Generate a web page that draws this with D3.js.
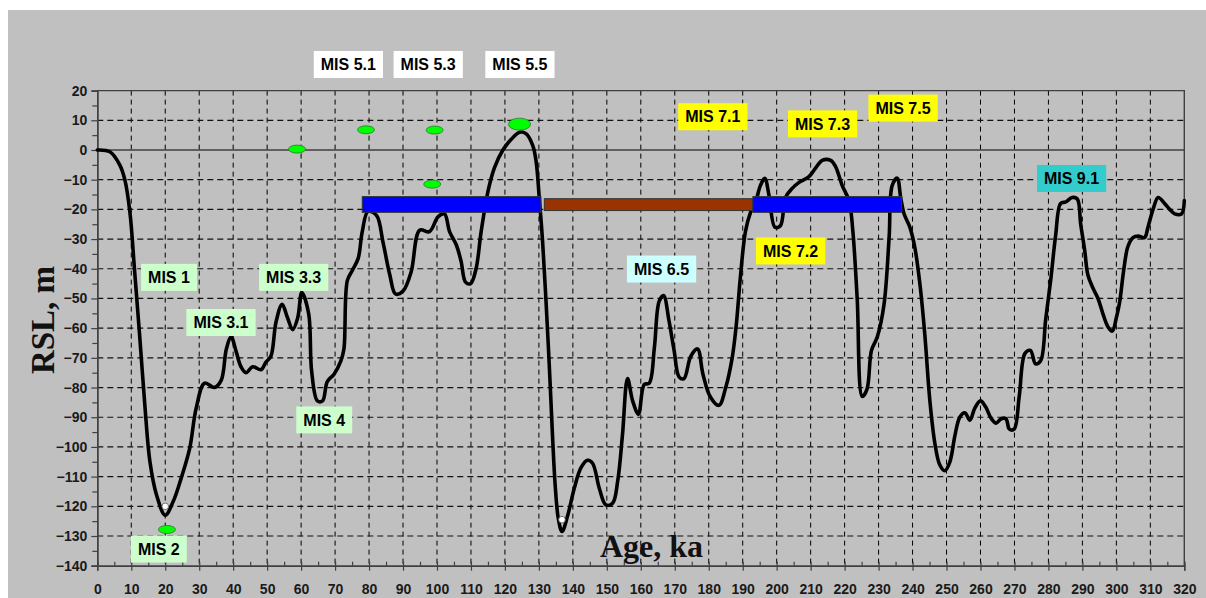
<!DOCTYPE html>
<html><head><meta charset="utf-8">
<script src="https://cdn.jsdelivr.net/npm/d3@7"></script>
<style>
html,body{margin:0;padding:0;background:#fff;}
svg{display:block;}
</style></head>
<body>
<svg id="c" width="1206" height="598"></svg>
<script>
// ---- data ----
const age = [0,3.7,6.6,8.1,9.6,11,12.5,14,15.5,17.4,20,22.3,24.7,27.2,29.1,31.6,34.5,36.5,38,39.4,40.9,42.3,43.8,45.7,48.2,49.6,51.1,52.6,54.4,56,57.5,59,60.2,62.2,63.1,64.8,66.3,67.7,69.7,71.7,72.6,73.6,75.1,76.8,78,79.7,82.2,84.1,86.1,87.8,90,92.4,94.9,97.8,100.3,102.2,103.7,105.7,107.1,108.4,109.9,111.5,113,115,116.9,119.4,121.8,124.3,126.2,128.2,129.2,130.1,131.1,132.1,133.1,134,134.8,135.7,136.8,138.5,140.4,142.4,144.3,145.8,147.8,149.7,151.7,153.2,154.6,156.1,157.6,159.3,161,162.5,164,165.4,166.7,168.3,169.8,171.3,172.7,174.7,176.7,178.3,180.4,183,185,186.9,188.1,189.3,190.8,192.3,193.8,195.2,196.5,197.7,199.5,201.1,202.6,204.5,206.5,209.5,211.5,213.4,215.9,217.3,219.3,221.3,222.4,223.7,225.2,226.6,227.9,229.6,231.6,233.1,234,235.5,236.5,237.5,239.2,240.7,242.2,243.6,245.1,246.6,248,249.5,251,252.5,253.9,255.4,256.9,258.3,260,261.5,263.2,264.6,266.1,267.5,268.5,269.9,271.4,273.1,274.7,276.2,277.7,279.2,280.7,282.1,283.6,285.1,287,288.5,289.5,290.7,291.6,293.1,294.6,296,297.5,298.8,300,301,302.1,303.4,304.9,306.4,308.3,309.3,310.8,312.3,314.2,315.7,317.2,319.2,320];
const rsl = [0,-0.6,-5,-10,-21,-41,-63,-86,-105,-116,-123,-118.5,-110.5,-100.5,-87,-78.5,-80,-77.5,-67,-63,-68,-73,-75,-73,-74,-71.5,-69.5,-58,-52,-56.5,-60.5,-56.5,-48,-55,-74.5,-84.5,-84.5,-78,-75.5,-71,-67,-44,-40.5,-36.5,-27.5,-20.7,-22,-31,-42,-48.5,-47.5,-41,-27,-27.5,-22.5,-21.5,-27.5,-32,-37.5,-44.5,-45,-40,-27.5,-14,-6,0,3.5,6,5.5,1.5,-4,-16,-31,-51,-73.5,-96,-113,-124,-128.5,-123,-114,-107,-104.5,-105.5,-114,-119.5,-119,-111.5,-96,-77,-84.5,-89,-79,-78.5,-66.5,-51,-49,-57.5,-67.5,-76.5,-77,-69.5,-67,-75.5,-83,-86,-80,-70,-59,-43,-27.5,-21,-17.5,-12,-9.5,-15,-26,-25.5,-16,-13,-11,-9,-6,-3.5,-3.5,-5.5,-12,-17,-27,-50,-83,-80.5,-67.5,-63,-52,-29.5,-12,-9.5,-16,-21.5,-26,-33,-45.5,-62,-84.5,-99,-106,-108,-105,-96,-90,-88.5,-91,-87,-84.5,-86.5,-90.5,-92,-90.5,-90.5,-94,-94,-83,-68.5,-67.5,-72,-71,-57,-43.5,-29,-18,-17.5,-16,-16.5,-25,-34,-42,-46.5,-50,-55,-59.5,-61,-56.5,-51,-41,-32.5,-29.5,-29,-29.5,-26,-20,-16,-18,-20,-21.5,-21.5,-17];

// bars: [start ka, end ka, top m, bottom m, type]
const barStart = [78, 131.6, 193];
const barEnd   = [130.6, 193, 236.8];
const barTop   = [-15.7, -16.4, -15.7];
const barBot   = [-21, -20.4, -21];
const barKind  = ["blue", "brown", "blue"];

// green sample points: age, rsl, size class
const ptAge  = [20.5, 58.8, 79.1, 99.3, 98.6, 124.3];
const ptRsl  = [-127.8, 0.3, 6.8, 6.7, -11.5, 8.7];
const ptBig  = [0, 0, 0, 0, 0, 1];

// white minimum markers
const minAge = [20, 136.8];
const minRsl = [-120, -124.5];

// MIS labels: text, center age, center rsl, style
const labText = ["MIS 5.1","MIS 5.3","MIS 5.5","MIS 1","MIS 3.3","MIS 3.1","MIS 4","MIS 2","MIS 6.5","MIS 7.1","MIS 7.3","MIS 7.5","MIS 7.2","MIS 9.1"];
const labAge  = [73.9, 97.4, 124.4, 21.1, 57.8, 36.4, 66.8, 18.1, 166.1, 181.2, 213.5, 237.2, 204.1, 286.8];
const labRsl  = [28.8, 28.8, 28.8, -42.9, -42.9, -58.1, -90.9, -134.4, -40.1, 11.2, 8.8, 14.1, -34, -9.6];
const labKind = ["white","white","white","green","green","green","green","green","cyan","yellow","yellow","yellow","yellow","teal"];

const xTicks = d3.range(0, 321, 10);
const yTicks = d3.range(-140, 21, 10);
const xMinor = d3.range(5, 320, 10);
const yMinor = d3.range(-135, 20, 10);

// ---- drawing ----
const svg = d3.select("#c");
const W = 1206, H = 598;
const L = 97.3, R = 1184.3, T = 90.6, B = 565.7;
const x = d3.scaleLinear().domain([0, 320]).range([L, R]);
const y = d3.scaleLinear().domain([-140, 20]).range([B, T]);

svg.append("rect").attr("x", 8).attr("y", 10).attr("width", W - 8).attr("height", H - 10).attr("fill", "#c0c0c0");

const g = svg.append("g");
// grid
g.append("g").selectAll("line").data(xTicks.filter(d => d > 0 && d < 320)).join("line")
  .attr("x1", d => x(d)).attr("x2", d => x(d)).attr("y1", T).attr("y2", B)
  .attr("stroke", "#000").attr("stroke-width", 1).attr("stroke-dasharray", "5,4");
g.append("g").selectAll("line").data(yTicks.filter(d => d !== 0 && d > -140 && d < 20)).join("line")
  .attr("x1", L).attr("x2", R).attr("y1", d => y(d)).attr("y2", d => y(d))
  .attr("stroke", "#111").attr("stroke-width", 1.2).attr("stroke-dasharray", "6,4");
// zero line
g.append("line").attr("x1", L).attr("x2", R).attr("y1", y(0)).attr("y2", y(0))
  .attr("stroke", "#404040").attr("stroke-width", 1.6);
// border top & right
g.append("path").attr("d", `M${L},${T}H${R}V${B}`).attr("fill", "none").attr("stroke", "#404040").attr("stroke-width", 1.4);

// axes
const font = "'Liberation Sans', Arial, sans-serif";
const xAxis = g.append("g").attr("transform", `translate(0,${B})`)
  .call(d3.axisBottom(x).tickValues(xTicks).tickSize(5).tickPadding(13).tickFormat(d3.format("d")));
const yAxis = g.append("g").attr("transform", `translate(${L},0)`)
  .call(d3.axisLeft(y).tickValues(yTicks).tickSize(6).tickPadding(4).tickFormat(d3.format("d")));
const xMin = g.append("g").attr("transform", `translate(0,${B})`)
  .call(d3.axisTop(x).tickValues(xMinor).tickSize(4).tickFormat(""));
const yMin = g.append("g").attr("transform", `translate(${L},0)`)
  .call(d3.axisLeft(y).tickValues(yMinor).tickSize(5).tickFormat(""));
[xAxis, yAxis, xMin, yMin].forEach(a => {
  a.select(".domain").attr("stroke", "#404040").attr("stroke-width", 1.4);
  a.selectAll(".tick line").attr("stroke", "#404040").attr("stroke-width", 1.2);
  a.selectAll("text").attr("font-family", font).attr("font-weight", "bold").attr("font-size", 14).attr("fill", "#1a1a1a");
});
xAxis.selectAll(".tick line").attr("y1", -4);

// curve
const pts = age.map((a, i) => [a, rsl[i]]);
const line = d3.line().x(d => x(d[0])).y(d => y(d[1])).curve(d3.curveCatmullRom.alpha(0.5));
svg.append("path").attr("d", line(pts)).attr("fill", "none").attr("stroke", "#000")
  .attr("stroke-width", 3.6).attr("stroke-linejoin", "round").attr("stroke-linecap", "round");

// bars
svg.append("g").selectAll("rect").data(barStart.map((s, i) => i)).join("rect")
  .attr("x", i => x(barStart[i])).attr("width", i => x(barEnd[i]) - x(barStart[i]))
  .attr("y", i => y(barTop[i])).attr("height", i => y(barBot[i]) - y(barTop[i]))
  .attr("fill", i => barKind[i] === "blue" ? "#0000ff" : "#993300")
  .attr("stroke", "#333").attr("stroke-width", 1);

// green points
svg.append("g").selectAll("ellipse").data(ptAge.map((a, i) => i)).join("ellipse")
  .attr("cx", i => x(ptAge[i])).attr("cy", i => y(ptRsl[i]))
  .attr("rx", i => ptBig[i] ? 11 : 8.5).attr("ry", i => ptBig[i] ? 6 : 4)
  .attr("fill", "#00ff00").attr("stroke", "#2a7a2a").attr("stroke-width", 0.8);

// white min markers
svg.append("g").selectAll("circle").data(minAge.map((a, i) => i)).join("circle")
  .attr("cx", i => x(minAge[i])).attr("cy", i => y(minRsl[i])).attr("r", 3.3)
  .attr("fill", "#fff").attr("stroke", "#555").attr("stroke-width", 0.8);

// labels
const fills = {white: "#ffffff", green: "#ccffcc", cyan: "#ccffff", yellow: "#ffff00", teal: "#33cccc"};
const lg = svg.append("g");
labText.forEach((t, i) => {
  const cx = x(labAge[i]), cy = y(labRsl[i]);
  const grp = lg.append("g");
  const txt = grp.append("text").attr("x", cx).attr("y", cy).attr("text-anchor", "middle")
    .attr("dy", "0.36em").attr("font-family", font).attr("font-weight", "bold").attr("font-size", 16)
    .attr("fill", "#000").text(t);
  const bb = txt.node().getBBox();
  grp.insert("rect", "text").attr("x", bb.x - 7).attr("y", cy - 13.5).attr("width", bb.width + 14).attr("height", 27)
    .attr("fill", fills[labKind[i]]);
});

// axis titles
svg.append("text").attr("transform", `translate(54,320) rotate(-90)`).attr("text-anchor", "middle")
  .attr("font-family", "'Liberation Serif', 'Times New Roman', serif").attr("font-weight", "bold")
  .attr("font-size", 33).attr("fill", "#111").text("RSL, m");
svg.append("text").attr("x", 600).attr("y", 557)
  .attr("font-family", "'Liberation Serif', 'Times New Roman', serif").attr("font-weight", "bold")
  .attr("font-size", 32).attr("fill", "#111").text("Age, ka");
</script>
</body></html>
